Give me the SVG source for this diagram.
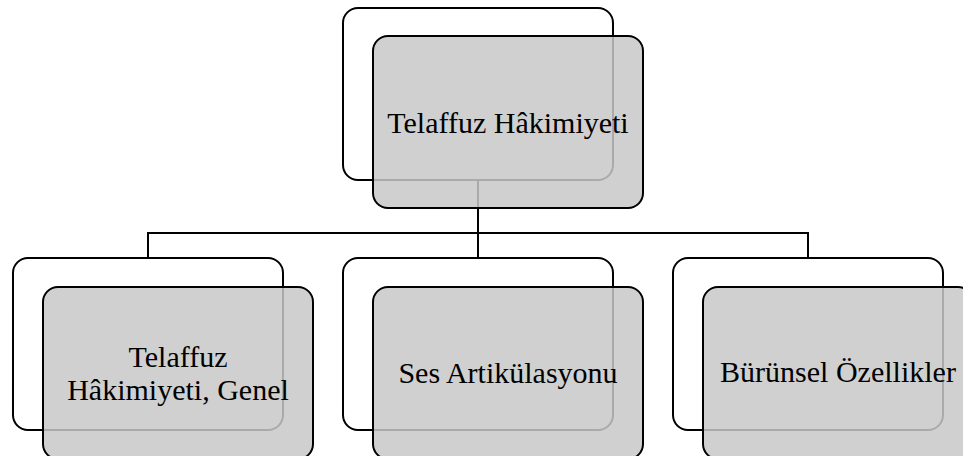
<svg xmlns="http://www.w3.org/2000/svg" width="963" height="456" viewBox="0 0 963 456">
<style>
.back{fill:#ffffff;stroke:#000;stroke-width:2}
.front{fill:#c8c8c8;fill-opacity:0.85;stroke:#000;stroke-width:2}
.conn{fill:none;stroke:#000;stroke-width:2}
.lbl{font-family:"Liberation Serif","Times New Roman",serif;font-size:30px;fill:#000;text-anchor:middle}
</style>
<rect width="963" height="456" fill="#fff"/>
<g id="connectors">
<path class="conn" d="M478,180 V233 M148,233 H808 M148,232 V258 M478,233 V258 M808,232 V258"/>
</g>
<g id="node-top">
<rect class="back" x="343" y="8" width="270" height="172" rx="15"/>
<rect class="front" x="373" y="36" width="270" height="172" rx="15"/>
<text class="lbl" x="508" y="133">Telaffuz Hâkimiyeti</text>
</g>
<g id="node-genel">
<rect class="back" x="13" y="258" width="270" height="172" rx="15"/>
<rect class="front" x="43" y="287" width="270" height="172" rx="15"/>
<text class="lbl" x="178" y="367">Telaffuz</text>
<text class="lbl" x="178" y="400">Hâkimiyeti, Genel</text>
</g>
<g id="node-ses">
<rect class="back" x="343" y="258" width="270" height="172" rx="15"/>
<rect class="front" x="373" y="287" width="270" height="172" rx="15"/>
<text class="lbl" x="508" y="383">Ses Artikülasyonu</text>
</g>
<g id="node-burun">
<rect class="back" x="673" y="258" width="270" height="172" rx="15"/>
<rect class="front" x="703" y="287" width="270" height="172" rx="15"/>
<text class="lbl" x="838" y="382">Bürünsel Özellikler</text>
</g>
</svg>
